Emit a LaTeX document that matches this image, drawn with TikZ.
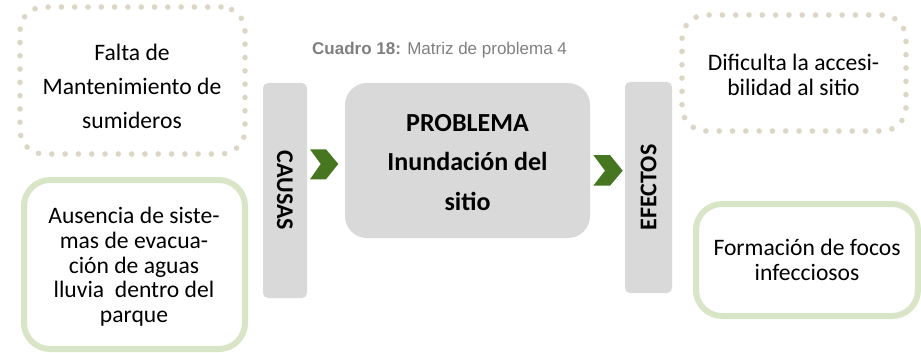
\documentclass[tikz,border=0pt]{standalone}
\usepackage{fontspec}
\setmainfont{Carlito}
\newfontfamily\capfont{Liberation Sans}
\definecolor{dotcol}{HTML}{DCD7C4}
\definecolor{leafcol}{RGB}{216,229,199}
\definecolor{barcol}{HTML}{D9D9D9}
\definecolor{chevcol}{RGB}{71,118,33}
\definecolor{capcol}{HTML}{7F7F7F}
\begin{document}
\begin{tikzpicture}[x=1pt,y=-1pt,
            dotbox/.style={rectangle, rounded corners=24pt, draw=dotcol, line width=5.6pt, dash pattern=on 0pt off 13.3pt, line cap=round},
            leafbox/.style={rectangle, rounded corners=26pt, draw=leafcol, line width=6pt},
            bar/.style={rectangle, rounded corners=5pt, fill=barcol, inner sep=0pt, font=\bfseries\fontsize{24}{28}\selectfont},
            txt/.style={align=center, inner sep=0pt},
            chev/.style={fill=chevcol}
            ]
            \useasboundingbox (0,0) rectangle (921,353);

            \node[anchor=base west, inner sep=0pt, text=capcol, font=\capfont\fontsize{17}{20}\selectfont] (cap) at (312,55) {\textbf{Cuadro 18:} Matriz de problema 4};

            % causas
            \node[dotbox, minimum width=225pt, minimum height=147pt] (falta) at (132.5,80.5) {};
            \node[txt, font=\fontsize{23.6}{34}\selectfont] (faltaTxt) at (132,86) {Falta de\\Mantenimiento de\\sumideros};
            \node[leafbox, minimum width=221pt, minimum height=169pt] (ausencia) at (134.5,264.5) {};
            \node[txt, font=\fontsize{23.6}{24.7}\selectfont] (ausenciaTxt) at (134,267) {Ausencia de siste-\\mas de evacua-\\ción de aguas\\lluvia\ \ dentro del\\parque};

            \node[bar, rotate=-90, minimum width=215pt, minimum height=44pt] (causas) at (285,190.5) {CAUSAS};

            % problema
            \node[rectangle, rounded corners=22pt, fill=barcol, minimum width=245pt, minimum height=155pt] (prob) at (467.5,160.5) {};
            \node[txt, font=\bfseries\fontsize{26}{39.5}\selectfont] (probTxt) at (467.5,162.5) {PROBLEMA\\Inundación del\\sitio};

            \node[bar, rotate=90, minimum width=211pt, minimum height=47pt] (efectos) at (648.5,187.5) {EFECTOS};

            % efectos
            \node[dotbox, minimum width=224pt, minimum height=116pt] (dificulta) at (794,73) {};
            \node[txt, font=\fontsize{23.6}{25}\selectfont] (dificultaTxt) at (793.5,74.5) {Dificulta la accesi-\\bilidad al sitio};
            \node[leafbox, minimum width=222pt, minimum height=112pt, align=center, font=\fontsize{23.6}{25}\selectfont] (focos) at (807,260) {Formación de focos\\infecciosos};

            \fill[chev] (310,149.3) -- (326,149.3) -- (338.3,164) -- (326,179.3) -- (310,179.3) -- (320.7,164) -- cycle;
            \fill[chev] (593.3,155) -- (610,155) -- (622.7,170.7) -- (610,185.7) -- (593.3,185.7) -- (605,170.7) -- cycle;

            \end{tikzpicture}
\end{document}
